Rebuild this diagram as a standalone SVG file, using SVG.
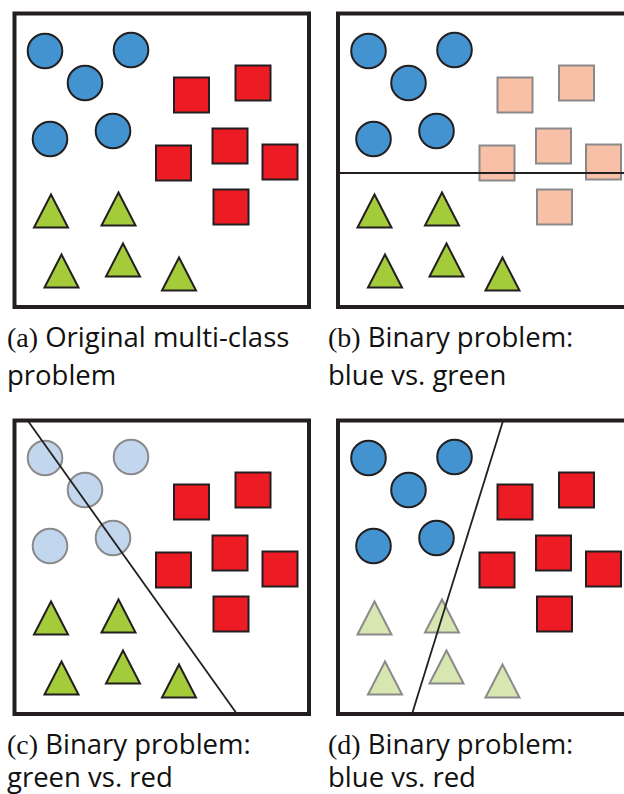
<svg xmlns="http://www.w3.org/2000/svg" xmlns:xlink="http://www.w3.org/1999/xlink" width="624" height="794" viewBox="0 0 624 794">
  <defs>
    <style>
      .frame { fill: #ffffff; stroke: #231f20; stroke-width: 4; }
      .blue { fill: #4393d0; stroke: #231f20; stroke-width: 2; }
      .red { fill: #ed1c24; stroke: #231f20; stroke-width: 2; }
      .green { fill: #a4cb3a; stroke: #231f20; stroke-width: 2; }
      .blue-faded { fill: #c2d7ee; stroke: #8a8a8a; stroke-width: 2; }
      .red-faded { fill: #f9c0a8; stroke: #8a8a8a; stroke-width: 2; }
      .green-faded { fill: #d8e7b1; stroke: #8a8a8a; stroke-width: 2; }
      .boundary { fill: none; stroke: #231f20; stroke-width: 1.8; }
      .caption { font-family: "Open Sans", "Noto Sans", "Liberation Sans", sans-serif; font-size: 27.5px; fill: #111111; }
      .tag { font-family: "Liberation Serif", serif; font-size: 28px; }
    </style>
    <!-- shape templates, positioned with <use> -->
    <circle id="dot" cx="0" cy="0" r="17.3"/>
    <rect id="box" x="0" y="0" width="35" height="35"/>
    <polygon id="tri" points="0,1.5 -17,34.5 17,34.5"/>

    <!-- class groups shared by every panel -->
    <g id="blues">
      <use xlink:href="#dot" x="45" y="51"/>
      <use xlink:href="#dot" x="131" y="50"/>
      <use xlink:href="#dot" x="85" y="83"/>
      <use xlink:href="#dot" x="50" y="139"/>
      <use xlink:href="#dot" x="113" y="131"/>
    </g>
    <g id="reds">
      <use xlink:href="#box" x="174" y="77.5"/>
      <use xlink:href="#box" x="235.5" y="65.5"/>
      <use xlink:href="#box" x="212.5" y="128.5"/>
      <use xlink:href="#box" x="156" y="145.5"/>
      <use xlink:href="#box" x="262.5" y="144.5"/>
      <use xlink:href="#box" x="213.5" y="189.5"/>
    </g>
    <g id="greens">
      <use xlink:href="#tri" x="51" y="193"/>
      <use xlink:href="#tri" x="118.5" y="191"/>
      <use xlink:href="#tri" x="61.5" y="253"/>
      <use xlink:href="#tri" x="123" y="242"/>
      <use xlink:href="#tri" x="179" y="256"/>
    </g>
  </defs>

  <rect width="624" height="794" fill="#ffffff"/>

  <!-- (a) all three classes -->
  <g id="panel-a">
    <rect class="frame" x="14.5" y="13.5" width="294.5" height="293.5"/>
    <use xlink:href="#blues" class="blue"/>
    <use xlink:href="#reds" class="red"/>
    <use xlink:href="#greens" class="green"/>
  </g>

  <!-- (b) blue vs. green, red faded -->
  <g id="panel-b" transform="translate(323.5,0)">
    <rect class="frame" x="14.5" y="13.5" width="294.5" height="293.5"/>
    <use xlink:href="#blues" class="blue"/>
    <use xlink:href="#reds" class="red-faded"/>
    <use xlink:href="#greens" class="green"/>
  </g>

  <!-- (c) green vs. red, blue faded -->
  <g id="panel-c" transform="translate(0,407)">
    <rect class="frame" x="14.5" y="13.5" width="294.5" height="293.5"/>
    <use xlink:href="#blues" class="blue-faded"/>
    <use xlink:href="#reds" class="red"/>
    <use xlink:href="#greens" class="green"/>
  </g>

  <!-- (d) blue vs. red, green faded -->
  <g id="panel-d" transform="translate(323.5,407)">
    <rect class="frame" x="14.5" y="13.5" width="294.5" height="293.5"/>
    <use xlink:href="#blues" class="blue"/>
    <use xlink:href="#reds" class="red"/>
    <use xlink:href="#greens" class="green-faded"/>
  </g>

  <!-- separating lines -->
  <g id="connectors">
    <line class="boundary" x1="338" y1="173" x2="624" y2="173"/>
    <line class="boundary" x1="28" y1="421" x2="237" y2="714"/>
    <line class="boundary" x1="503" y1="421" x2="412" y2="714"/>
  </g>

  <!-- captions -->
  <g id="captions">
    <text class="caption" x="7" y="347"><tspan class="tag">(a)</tspan> Original multi-class</text>
    <text class="caption" x="7" y="385">problem</text>
    <text class="caption" x="328" y="347"><tspan class="tag">(b)</tspan> Binary problem:</text>
    <text class="caption" x="328" y="385">blue vs. green</text>
    <text class="caption" x="7" y="754"><tspan class="tag">(c)</tspan> Binary problem:</text>
    <text class="caption" x="7" y="787">green vs. red</text>
    <text class="caption" x="328" y="754"><tspan class="tag">(d)</tspan> Binary problem:</text>
    <text class="caption" x="328" y="787">blue vs. red</text>
  </g>
</svg>
